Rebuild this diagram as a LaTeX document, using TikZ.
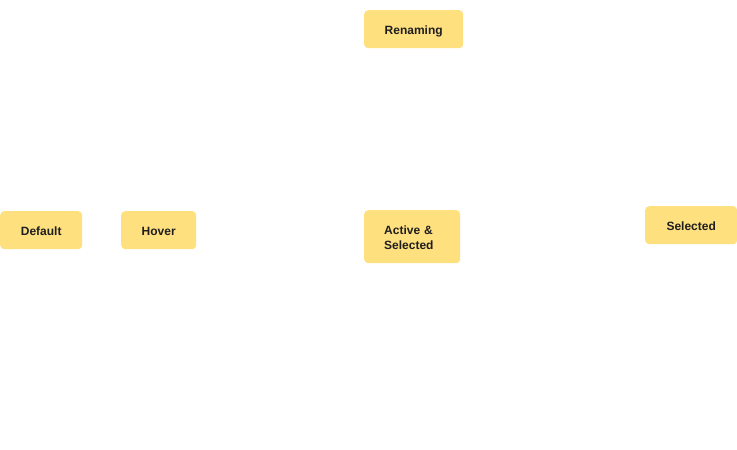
\documentclass[tikz,border=0pt]{standalone}
\usepackage{fontspec}
\setmainfont{Liberation Sans}
\definecolor{statefill}{HTML}{FFE07F}
\definecolor{statetext}{HTML}{1E1E1E}
\begin{document}
\begin{tikzpicture}[x=1pt,y=-1pt,
  statebox/.style={rectangle, rounded corners=4pt, fill=statefill, draw=none,
    text=statetext, font=\bfseries\fontsize{12}{15}\selectfont,
    inner sep=0pt, anchor=north west, text height=10pt, text depth=0pt}]
  \useasboundingbox[fill=white] (0,0) rectangle (737,450);
  \node[statebox, minimum width=99pt, minimum height=38pt] (renaming) at (364,10) {Renaming};
  \node[statebox, minimum width=82pt, minimum height=38pt] (default) at (0,211) {Default};
  \node[statebox, minimum width=75pt, minimum height=38pt] (hover) at (121,211) {Hover};
  \node[statebox, minimum width=96pt, minimum height=53pt, text width=56pt, align=left,
        inner xsep=20pt, text height=10pt, text depth=14pt] (active) at (364,210) {Active \&\\Selected};
  \node[statebox, minimum width=92pt, minimum height=38pt] (selected) at (645,206) {Selected};
\end{tikzpicture}
\end{document}
